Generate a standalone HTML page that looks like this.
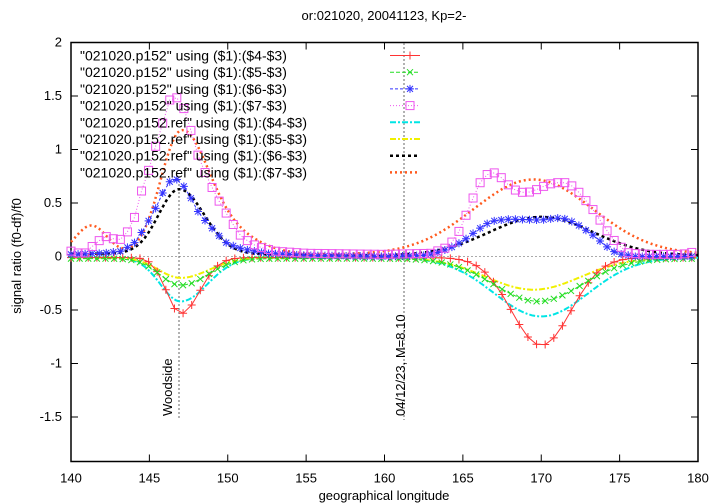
<!DOCTYPE html>
<html><head><meta charset="utf-8"><style>body{margin:0;background:#fff}svg{display:block;font-family:"Liberation Sans",sans-serif}</style></head>
<body>
<svg id="s" width="720" height="504" viewBox="0 0 720 504" xmlns="http://www.w3.org/2000/svg">
<rect width="720" height="504" fill="#fff"/>
<text x="384" y="20" font-size="13" text-anchor="middle">or:021020, 20041123, Kp=2-</text>
<g id="ax" font-size="13" fill="#000"></g>
<line x1="71" y1="256.5" x2="698" y2="256.5" stroke="#aaa" stroke-dasharray="2,2" stroke-width="1"/>
<line x1="179" y1="180" x2="179" y2="418" stroke="#666" stroke-dasharray="2,2"/>
<line x1="404" y1="43" x2="404" y2="420" stroke="#666" stroke-dasharray="2,2"/>
<text transform="translate(172,416) rotate(-90)" font-size="13">Woodside</text>
<text transform="translate(405,416) rotate(-90)" font-size="13">04/12/23, M=8.10</text>
<g id="ser"></g>
<g id="leg" font-size="14"></g>
<text transform="translate(21,256) rotate(-90)" font-size="13" text-anchor="middle">signal ratio (f0-df)/f0</text>
<text x="384" y="500" font-size="13" text-anchor="middle">geographical longitude</text>
</svg>
<script>
const NS="http://www.w3.org/2000/svg",L=71,R=698,T=42.5,B=461.5;
const X=x=>L+(x-140)*(R-L)/40, Y=y=>256.5-y*107;
function el(t,a,p){const e=document.createElementNS(NS,t);for(const k in a)e.setAttribute(k,a[k]);(p||document.getElementById('ser')).appendChild(e);return e;}
const ax=document.getElementById('ax');
el('rect',{x:L,y:T,width:R-L,height:B-T,fill:'none',stroke:'#000','stroke-width':1.5},ax);
for(let v=140;v<=180;v+=5){const x=X(v);el('line',{x1:x,y1:B,x2:x,y2:B-7,stroke:'#000'},ax);el('line',{x1:x,y1:T,x2:x,y2:T+7,stroke:'#000'},ax);const t=el('text',{x:x,y:B+21,'text-anchor':'middle'},ax);t.textContent=v;}
for(let v=-1.5;v<=2;v+=0.5){const y=Y(v);el('line',{x1:L,y1:y,x2:L+7,y2:y,stroke:'#000'},ax);el('line',{x1:R,y1:y,x2:R-7,y2:y,stroke:'#000'},ax);const t=el('text',{x:L-9,y:y+4,'text-anchor':'end'},ax);t.textContent=(v==0?'0':v);}
const g=(x,m,s)=>Math.exp(-((x-m)*(x-m))/(2*s*s));
const ag=(x,m,sl,sr)=>g(x,m,x<m?sl:sr);
function interp(P){return x=>{if(x<=P[0][0])return P[0][1];for(let i=1;i<P.length;i++){if(x<=P[i][0]){const a=P[i-1],b=P[i];return a[1]+(b[1]-a[1])*(x-a[0])/(b[0]-a[0]);}}return P[P.length-1][1];};}
const M=interp([[140,0.05],[140.8,0.02],[141.7,0.14],[142.3,0.19],[142.8,0.16],[143.2,0.16],[143.6,0.23],[144.1,0.38],[144.4,0.57],[144.9,0.78],[145.4,1.03],[145.9,1.27],[146.2,1.45],[146.6,1.5],[146.95,1.46],[147.4,1.32],[147.7,1.15],[148,0.98],[148.4,0.85],[148.7,0.72],[149.1,0.62],[149.4,0.53],[149.8,0.43],[150.3,0.31],[150.8,0.2],[151.5,0.12],[152.2,0.08],[153,0.05],[155,0.03],[160,0.02],[163,0.03],[164.07,0.09],[164.43,0.16],[164.86,0.26],[165.24,0.4],[165.63,0.54],[166.05,0.68],[166.47,0.76],[166.88,0.79],[167.3,0.76],[167.75,0.69],[168.2,0.63],[168.7,0.6],[169.2,0.6],[169.8,0.63],[170.35,0.67],[170.9,0.69],[171.5,0.69],[172.1,0.65],[172.7,0.55],[173.4,0.42],[174.1,0.26],[174.8,0.12],[175.6,0.03],[177,0.02],[179,0.02],[180,0.05]]);
const Bl=interp([[140,0.02],[142,0.03],[143.2,0.05],[144,0.12],[144.4,0.2],[144.9,0.32],[145.4,0.45],[145.8,0.58],[146.2,0.69],[146.65,0.73],[146.95,0.7],[147.4,0.62],[147.7,0.53],[148,0.44],[148.4,0.36],[148.9,0.28],[149.4,0.2],[149.9,0.13],[150.5,0.09],[151.3,0.06],[152.5,0.03],[155,0.01],[160,0.0],[162.5,0.01],[163.5,0.04],[164.5,0.1],[165.24,0.17],[166.05,0.26],[166.8,0.33],[168,0.35],[170,0.34],[171,0.36],[171.6,0.35],[172.2,0.31],[172.7,0.26],[173.4,0.19],[174.1,0.1],[174.8,0.03],[176,0.0],[180,0.0]]);
const F={
r:x=>-0.525*ag(x,147,0.9,1.2)-0.82*g(x,170,1.9)-0.01,
gr:x=>-0.25*ag(x,147,1.3,1.7)-0.4*g(x,169.8,2.8)-0.02,
b:Bl, m:M,
c:x=>-0.41*ag(x,147,1.3,1.7)-0.55*g(x,170,3)-0.01,
y:x=>-0.19*ag(x,147,1.4,1.8)-0.3*g(x,169.5,3)-0.01,
k:x=>0.6*ag(x,146.9,1.3,1.6)+0.36*g(x,170,3.3)+0.02*g(x,145,6)+0.01,
o:x=>1.1*ag(x,147,1.3,1.7)+0.27*g(x,141.3,1.0)+0.18*g(x,150,2)+0.7*g(x,169.5,3.8)+0.02
};
function line(f,col,dash,w,step){let d='';for(let x=140;x<=180.001;x+=step){d+=(d?'L':'M')+X(x).toFixed(1)+','+Y(f(x)).toFixed(1);}el('path',{d:d,fill:'none',stroke:col,'stroke-width':w,'stroke-dasharray':dash});}
function mark(type,x,y,col){if(type=='+'){el('path',{d:`M${x-4},${y}h8M${x},${y-4}v8`,stroke:col,fill:'none'});}
else if(type=='x'){el('path',{d:`M${x-3},${y-3}l6,6M${x-3},${y+3}l6,-6`,stroke:col,fill:'none'});}
else if(type=='*'){el('path',{d:`M${x-4},${y}h8M${x},${y-4}v8M${x-3},${y-3}l6,6M${x-3},${y+3}l6,-6`,stroke:col,fill:'none'});}
else {el('rect',{x:x-4,y:y-4,width:8,height:8,stroke:col,fill:'none'});}}
function pts(f,col,type,dash,step){line(f,col,dash,1,step);for(let x=140;x<=180.001;x+=step)mark(type,X(x),Y(f(x)),col);}
line(F.c,'#00e5e5','6,2,2,2',2,0.1);
line(F.y,'#f0f000','6,2,2,2',2,0.1);
line(F.k,'#000','3,3',2.5,0.1);
line(F.o,'#ff5a1e','2,3',2.5,0.1);
pts(F.r,'#f33','+','',0.55);
pts(F.gr,'#2d2','x','4,2',0.55);
pts(F.b,'#33f','*','3,2',0.45);
pts(F.m,'#e5e','s','1,2',0.45);
const lab=['"021020.p152" using ($1):($4-$3)','"021020.p152" using ($1):($5-$3)','"021020.p152" using ($1):($6-$3)','"021020.p152" using ($1):($7-$3)','"021020.p152.ref" using ($1):($4-$3)','"021020.p152.ref" using ($1):($5-$3)','"021020.p152.ref" using ($1):($6-$3)','"021020.p152.ref" using ($1):($7-$3)'];
const sty=[['#f33','',1,'+'],['#2d2','4,2',1,'x'],['#33f','3,2',1,'*'],['#e5e','1,2',1,'s'],['#00e5e5','6,2,2,2',2],['#f0f000','6,2,2,2',2],['#000','3,3',2.5],['#ff5a1e','2,3',2.5]];
const lg=document.getElementById('leg');
lab.forEach((t,i)=>{const y=55.5+i*16.7;const e=el('text',{x:80,y:y+5},lg);e.textContent=t;const s=sty[i];el('line',{x1:390,y1:y,x2:420,y2:y,stroke:s[0],'stroke-dasharray':s[1],'stroke-width':s[2]},lg);if(s[3])mark(s[3],410,y,s[0]);});
</script>
</body></html>
